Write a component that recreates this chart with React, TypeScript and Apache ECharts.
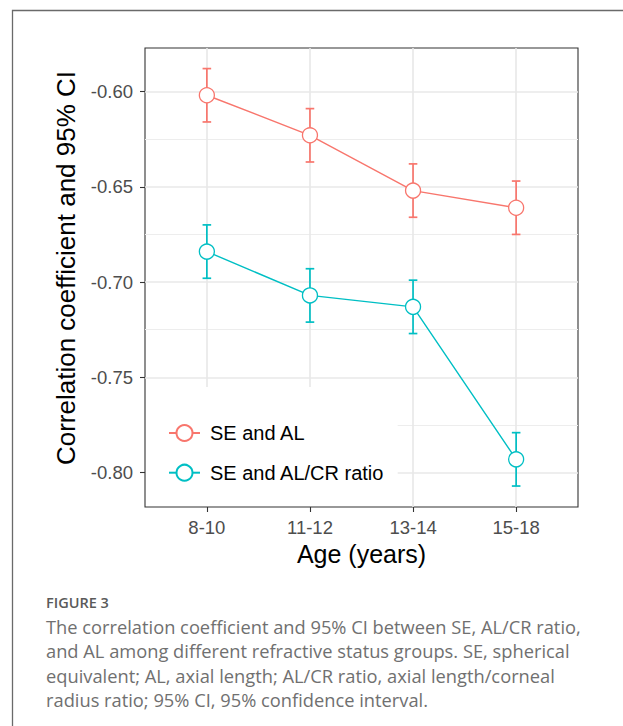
import React, { useEffect, useRef } from "react";
import * as echarts from "echarts";

const categories = ["8-10", "11-12", "13-14", "15-18"];
const seriesNames = ["SE and AL", "SE and AL/CR ratio"];
const alValues = [-0.602, -0.623, -0.652, -0.661];
const alLower = [-0.616, -0.637, -0.666, -0.675];
const alUpper = [-0.588, -0.609, -0.638, -0.647];
const crValues = [-0.684, -0.707, -0.713, -0.793];
const crLower = [-0.698, -0.721, -0.727, -0.807];
const crUpper = [-0.670, -0.693, -0.699, -0.779];
const yTicks = [-0.8, -0.75, -0.7, -0.65, -0.6];
const yMinorTicks = [-0.775, -0.725, -0.675, -0.625];
const yTitle = "Correlation coefficient and 95% CI";
const xTitle = "Age (years)";
const figureLabel = "FIGURE 3";
const captionLines = [
  "The correlation coefficient and 95% CI between SE, AL/CR ratio,",
  "and AL among different refractive status groups. SE, spherical",
  "equivalent; AL, axial length; AL/CR ratio, axial length/corneal",
  "radius ratio; 95% CI, 95% confidence interval.",
];

const RED = "#F8766D";
const TEAL = "#00BFC4";
const FONT = "'Liberation Sans', Arial, sans-serif";
const X_MIN = 0.4;
const X_MAX = 4.6;
const Y_MIN = -0.818;
const Y_MAX = -0.5772;
// legend box extent in data units (covers grid lines)
const LEG_X = 2.851;
const LEG_Y = -0.755;

export default function App() {
  const ref = useRef<HTMLDivElement>(null);
  useEffect(() => {
    document.body.style.margin = "0";
    const chart = echarts.init(ref.current!, undefined, { renderer: "svg" });
    const xs = categories.map((_, i) => i + 1);

    const gridLines: any[] = [];
    const major = { color: "#E8E8E8", width: 1.6, type: "solid" };
    const minor = { color: "#EDEDED", width: 1.1, type: "solid" };
    yTicks.forEach((v) => {
      const x0 = v < LEG_Y ? LEG_X : X_MIN;
      gridLines.push([{ coord: [x0, v], lineStyle: major }, { coord: [X_MAX, v] }]);
    });
    yMinorTicks.forEach((v) => {
      const x0 = v < LEG_Y ? LEG_X : X_MIN;
      gridLines.push([{ coord: [x0, v], lineStyle: minor }, { coord: [X_MAX, v] }]);
    });
    xs.forEach((x) => {
      const y0 = x < LEG_X ? LEG_Y : Y_MIN;
      gridLines.push([{ coord: [x, y0], lineStyle: major }, { coord: [x, Y_MAX] }]);
    });

    const errSeries = (name: string, lo: number[], hi: number[], color: string) => ({
      type: "custom",
      name: name + " CI",
      z: 10,
      silent: true,
      encode: { x: 0, y: [1, 2] },
      data: xs.map((x, i) => [x, lo[i], hi[i]]),
      renderItem: (params: any, api: any) => {
        const x = api.value(0);
        const pLo = api.coord([x, api.value(1)]);
        const pHi = api.coord([x, api.value(2)]);
        const hw = 4.3;
        const style = { stroke: color, lineWidth: 1.7, fill: "none", opacity: 1 };
        return {
          type: "group",
          children: [
            { type: "line", shape: { x1: pLo[0], y1: pLo[1], x2: pHi[0], y2: pHi[1] }, style },
            { type: "line", shape: { x1: pLo[0] - hw, y1: pLo[1], x2: pLo[0] + hw, y2: pLo[1] }, style },
            { type: "line", shape: { x1: pHi[0] - hw, y1: pHi[1], x2: pHi[0] + hw, y2: pHi[1] }, style },
          ],
        };
      },
    });

    const lineSeries = (name: string, vals: number[], color: string) => ({
      type: "line",
      name,
      z: 11,
      data: xs.map((x, i) => [x, vals[i]]),
      symbol: "circle",
      symbolSize: 15,
      showSymbol: true,
      lineStyle: { color, width: 1.4 },
      itemStyle: { color: "#ffffff", borderColor: color, borderWidth: 1.3 },
      emphasis: { disabled: true },
    });

    chart.setOption({
      animation: false,
      grid: {
        left: 145,
        top: 48,
        right: 45,
        bottom: 219,
        show: true,
        borderColor: "#333333",
        borderWidth: 1.1,
        backgroundColor: "transparent",
      },
      xAxis: {
        type: "value",
        min: X_MIN,
        max: X_MAX,
        axisLine: { show: false },
        splitLine: { show: false },
        axisTick: {
          show: true,
          customValues: xs,
          length: 5,
          lineStyle: { color: "#333333", width: 1.1 },
        },
        axisLabel: {
          customValues: xs,
          formatter: (v: number) => categories[Math.round(v) - 1] ?? "",
          color: "#4D4D4D",
          fontSize: 18.5,
          fontFamily: FONT,
          margin: 11,
        },
      },
      yAxis: {
        type: "value",
        min: Y_MIN,
        max: Y_MAX,
        axisLine: { show: false },
        splitLine: { show: false },
        axisTick: {
          show: true,
          customValues: yTicks,
          length: 5,
          lineStyle: { color: "#333333", width: 1.1 },
        },
        axisLabel: {
          customValues: yTicks,
          formatter: (v: number) => v.toFixed(2),
          color: "#4D4D4D",
          fontSize: 18.5,
          fontFamily: FONT,
          margin: 12,
        },
      },
      legend: {
        data: seriesNames,
        orient: "vertical",
        left: 163,
        top: 418,
        itemWidth: 31,
        itemHeight: 20,
        itemGap: 19.7,
        selectedMode: false,
        textStyle: {
          fontSize: 20,
          fontFamily: FONT,
          color: "#000000",
          lineHeight: 20,
          padding: [0, 0, 0, 5],
        },
      },
      graphic: [
        {
          type: "rect",
          shape: { x: 12.5, y: 10.5, width: 700, height: 800 },
          style: { fill: "none", stroke: "#6a6a6a", lineWidth: 1.3 },
          silent: true,
        },
        {
          type: "text",
          x: 66,
          y: 268,
          rotation: Math.PI / 2,
          style: {
            text: yTitle,
            fontSize: 26,
            fontFamily: FONT,
            fill: "#000000",
            align: "center",
            verticalAlign: "middle",
          },
        },
        {
          type: "text",
          x: 361.5,
          y: 554,
          style: {
            text: xTitle,
            fontSize: 25,
            fontFamily: FONT,
            fill: "#000000",
            align: "center",
            verticalAlign: "middle",
          },
        },
        {
          type: "text",
          x: 46,
          y: 602.5,
          style: {
            text: figureLabel,
            fontSize: 14.5,
            fontWeight: 600,
            fontFamily: "'Open Sans', sans-serif",
            fill: "#5a5a5a",
            align: "left",
            verticalAlign: "middle",
          },
        },
        ...captionLines.map((t, i) => ({
          type: "text",
          x: 46,
          y: 626 + i * 24.5,
          style: {
            text: t,
            fontSize: 18.3,
            fontFamily: "'Open Sans', sans-serif",
            fill: "#707070",
            align: "left",
            verticalAlign: "middle",
          },
        })),
      ],
      series: [
        {
          type: "line",
          name: "grid",
          z: 1,
          silent: true,
          data: [],
          markLine: {
            z: 1,
            silent: true,
            symbol: ["none", "none"],
            label: { show: false },
            animation: false,
            data: gridLines,
          },
        },
        errSeries(seriesNames[0], alLower, alUpper, RED),
        errSeries(seriesNames[1], crLower, crUpper, TEAL),
        lineSeries(seriesNames[0], alValues, RED),
        lineSeries(seriesNames[1], crValues, TEAL),
      ],
    });
    return () => chart.dispose();
  }, []);
  return <div ref={ref} style={{ width: 623, height: 726 }} />;
}
